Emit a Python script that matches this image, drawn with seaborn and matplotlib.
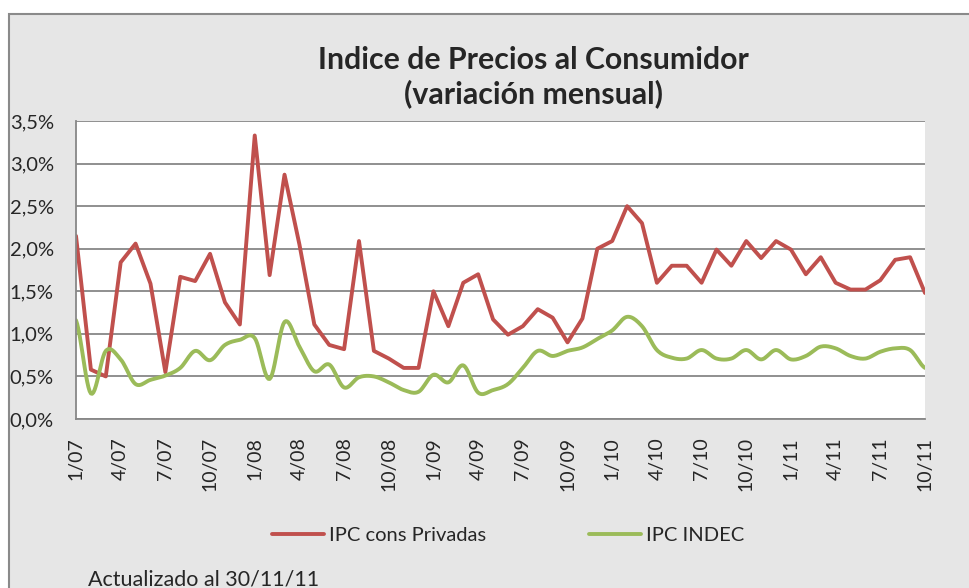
import numpy as np
import pandas as pd
import matplotlib
matplotlib.use('Agg')
import matplotlib.pyplot as plt
import seaborn as sns
from matplotlib.patches import Rectangle
from matplotlib.ticker import FuncFormatter

# monthly data, 1/07 .. 10/11
months = [f'{m}/{y:02d}' for y in range(7, 12) for m in range(1, 13)][:58]

ipc_privadas = [2.15, 0.58, 0.50, 1.84, 2.06, 1.59, 0.55, 1.67, 1.62, 1.94,
                1.37, 1.11, 3.33, 1.69, 2.87, 2.05, 1.11, 0.87, 0.82, 2.09,
                0.80, 0.71, 0.60, 0.60, 1.50, 1.09, 1.60, 1.70, 1.17, 0.99,
                1.09, 1.29, 1.19, 0.90, 1.18, 2.00, 2.09, 2.50, 2.30, 1.60,
                1.80, 1.80, 1.60, 1.99, 1.80, 2.09, 1.89, 2.09, 1.99, 1.70,
                1.90, 1.60, 1.52, 1.52, 1.63, 1.87, 1.90, 1.48]

ipc_indec = [1.16, 0.30, 0.80, 0.70, 0.41, 0.46, 0.51, 0.60, 0.80, 0.69,
             0.87, 0.93, 0.95, 0.47, 1.14, 0.85, 0.56, 0.64, 0.37, 0.49,
             0.50, 0.43, 0.34, 0.32, 0.52, 0.43, 0.63, 0.31, 0.34, 0.41,
             0.60, 0.80, 0.74, 0.80, 0.84, 0.94, 1.04, 1.20, 1.09, 0.81,
             0.72, 0.71, 0.81, 0.71, 0.71, 0.81, 0.70, 0.81, 0.70, 0.74,
             0.85, 0.83, 0.74, 0.71, 0.79, 0.83, 0.81, 0.60]

tick_labels = months[::3]

RED = '#C0504D'
GREEN = '#9BBB59'
GRID = '#878787'


def smooth(y, n=12):
    # Catmull-Rom spline, like Excel's "smoothed line"
    y = np.asarray(y, dtype=float)
    p = np.concatenate([[y[0]], y, [y[-1]]])
    xs, ys = [], []
    t = np.linspace(0, 1, n, endpoint=False)
    for i in range(len(y) - 1):
        p0, p1, p2, p3 = p[i], p[i + 1], p[i + 2], p[i + 3]
        seg = 0.5 * ((2 * p1) + (-p0 + p2) * t + (2 * p0 - 5 * p1 + 4 * p2 - p3) * t ** 2
                     + (-p0 + 3 * p1 - 3 * p2 + p3) * t ** 3)
        xs.extend(i + t)
        ys.extend(seg)
    xs.append(len(y) - 1)
    ys.append(y[-1])
    return np.array(xs), np.array(ys)


sns.set_style('white')
plt.rcParams['font.family'] = ['Lato', 'DejaVu Sans']

fig = plt.figure(figsize=(9.69, 5.88), dpi=100)
fig.patch.set_facecolor('white')
fig.patches.append(Rectangle((9 / 969, -0.05), 1.1, 1 - 14 / 588 + 0.05,
                             transform=fig.transFigure, facecolor='#E6E6E6',
                             edgecolor='#8A8A8A', linewidth=1.5, zorder=-5))

ax = fig.add_axes([76 / 969, 1 - 419 / 588, (925 - 76) / 969, (419 - 121) / 588])
ax.set_facecolor('white')
ax.set_zorder(2)

df = pd.DataFrame({'x': np.arange(len(months)), 'IPC cons Privadas': ipc_privadas})
sns.lineplot(data=df, x='x', y='IPC cons Privadas', ax=ax, color=RED, linewidth=2.8,
             label='IPC cons Privadas', legend=False)
sx, sy = smooth(ipc_indec)
sns.lineplot(x=sx, y=sy, ax=ax, color=GREEN, linewidth=2.8, label='IPC INDEC',
             legend=False, sort=False)

ax.set_xlim(0, len(months) - 1)
ax.set_ylim(0, 3.5)
ax.set_yticks(np.arange(0, 3.51, 0.5))
ax.yaxis.set_major_formatter(FuncFormatter(lambda v, p: f'{v:.1f}%'.replace('.', ',')))
ax.set_xticks(np.arange(0, len(months), 3))
ax.set_xticklabels(tick_labels, rotation=90, fontsize=14)
ax.tick_params(axis='y', labelsize=14.5, length=0, pad=16)
ax.tick_params(axis='x', length=0, pad=13)
ax.grid(axis='y', color=GRID, linewidth=1.3)
ax.set_axisbelow(True)
ax.set_xlabel('')
ax.set_ylabel('')
for s in ['top', 'right']:
    ax.spines[s].set_visible(False)
for s in ['left', 'bottom']:
    ax.spines[s].set_color(GRID)
    ax.spines[s].set_linewidth(1.3)

fig.text(533 / 969, 1 - 77 / 588, 'Indice de Precios al Consumidor\n(variación mensual)',
         ha='center', va='center', fontsize=21.8, fontweight='bold', linespacing=1.25)

handles, labels = ax.get_legend_handles_labels()
fig.legend(handles, labels, loc='center', bbox_to_anchor=(508 / 969, 1 - 535 / 588),
           ncol=2, frameon=False, fontsize=14.5, handlelength=2.6, handletextpad=0.25,
           columnspacing=5.1)

fig.text(88 / 969, 1 - 579 / 588, 'Actualizado al 30/11/11', ha='left', va='center',
         fontsize=15.5)

fig.savefig('out.png', dpi=100)
